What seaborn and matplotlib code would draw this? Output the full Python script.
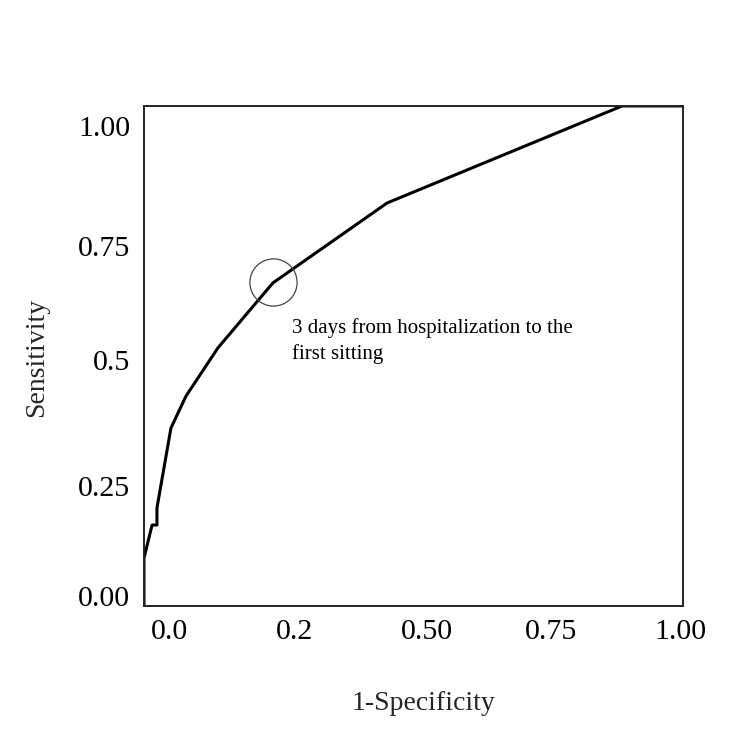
import pandas as pd
import matplotlib
matplotlib.use("Agg")
import matplotlib.pyplot as plt
import seaborn as sns

# ROC curve points (1-specificity, sensitivity)
fpr = [0.0, 0.0, 0.015, 0.024, 0.024, 0.050, 0.078, 0.137, 0.239, 0.451, 0.887, 1.0]
sens = [0.0, 0.096, 0.162, 0.162, 0.196, 0.356, 0.420, 0.516, 0.646, 0.806, 1.0, 1.0]

# highlighted cut-off point
cut_fpr = [0.239]
cut_sens = [0.648]
cut_text = "3 days from hospitalization to the\nfirst sitting"

# tick labels as printed on the chart (placed where they sit in the picture)
xtick_labels = ["0.0", "0.2", "0.50", "0.75", "1.00"]
xtick_pos = [0.048, 0.28, 0.525, 0.755, 0.996]
ytick_labels = ["0.00", "0.25", "0.5", "0.75", "1.00"]
ytick_pos = [0.02, 0.24, 0.492, 0.72, 0.96]

sns.set_style("white")
plt.rcParams['font.family'] = ['Liberation Serif', 'DejaVu Serif']

fig = plt.figure(figsize=(7.5, 7.52), dpi=100)
ax = fig.add_axes([0.192, 0.1941, 0.7187, 0.665])

df = pd.DataFrame({'fpr': fpr, 'sens': sens})
sns.lineplot(x='fpr', y='sens', data=df, sort=False, estimator=None,
             color='black', linewidth=2.2, ax=ax)

ax.plot(cut_fpr, cut_sens, marker='o', markersize=34, markerfacecolor='none',
        markeredgecolor='#444444', markeredgewidth=0.9, linestyle='none')
ax.text(0.275, 0.53, cut_text, fontsize=15, ha='left', va='center',
        linespacing=1.4, color='black')

ax.set_xlim(0, 1)
ax.set_ylim(0, 1)
ax.set_xticks(xtick_pos)
ax.set_xticklabels(xtick_labels)
ax.set_yticks(ytick_pos)
ax.set_yticklabels(ytick_labels)
ax.tick_params(axis='both', length=0, labelsize=21.5, colors='black')
ax.tick_params(axis='x', pad=9)
ax.tick_params(axis='y', pad=10)

for s in ax.spines.values():
    s.set_visible(True)
    s.set_color('#222222')
    s.set_linewidth(1.4)

ax.set_xlabel('1-Specificity', fontsize=20)
ax.set_ylabel('Sensitivity', fontsize=20)
ax.xaxis.set_label_coords(0.5176, -0.194)
ax.yaxis.set_label_coords(-0.1985, 0.498)
ax.xaxis.label.set_va('center')
ax.yaxis.label.set_va('center')

fig.savefig('out.png', dpi=100)
